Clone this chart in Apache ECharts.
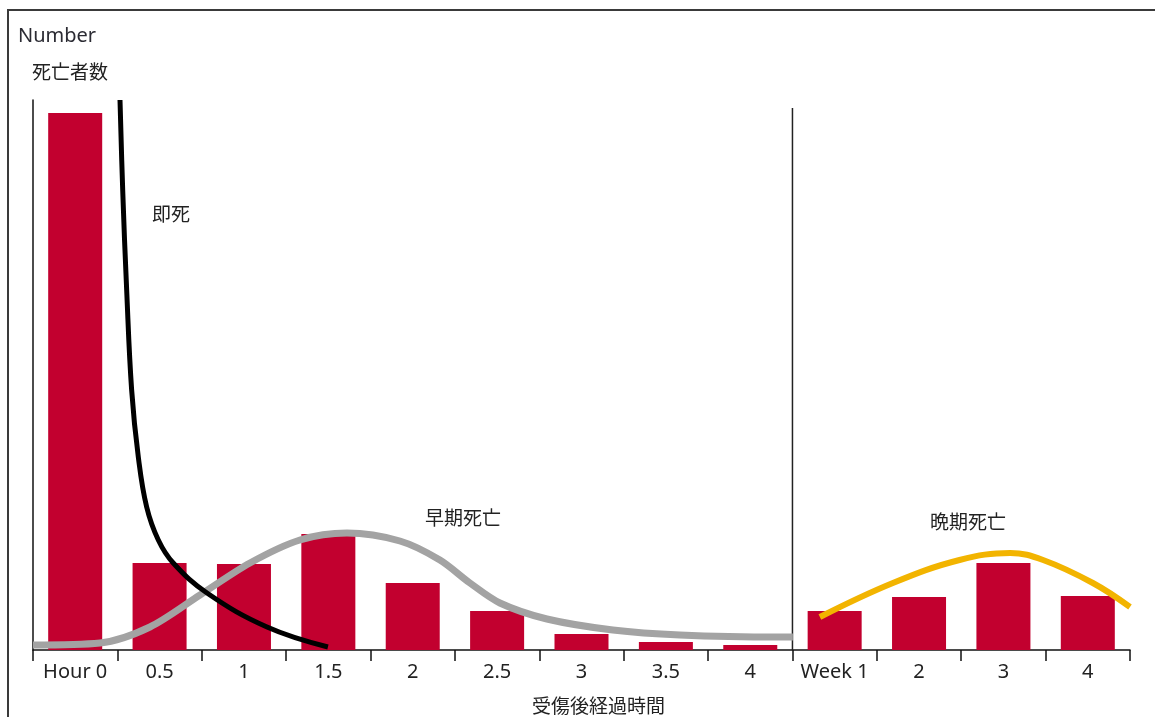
<!DOCTYPE html>
<html>
<head>
<meta charset="utf-8">
<script src="https://cdn.jsdelivr.net/npm/echarts@6/dist/echarts.min.js"></script>
<style>
	html, body { margin: 0; padding: 0; background: #fff; }
	#frame { position: absolute; left: 7px; top: 9px; width: 1200px; height: 800px; border-left: 2px solid #3a3a3a; border-top: 2px solid #3a3a3a; }
	#chart { position: absolute; left: 0; top: 0; width: 1155px; height: 717px; }
</style>
</head>
<body>
<div id="frame"></div>
<div id="chart"></div>
<script>
// 横軸のカテゴリ（時間・週）
var categories = ['Hour 0', '0.5', '1', '1.5', '2', '2.5', '3', '3.5', '4', 'Week 1', '2', '3', '4'];
// 死亡者数（棒グラフ）
var deaths = [537, 87, 86, 116, 67, 39, 16, 8, 5, 39, 53, 87, 54];
// 曲線：[カテゴリ位置, 値]
var immediateCurve = [[1.031, 550], [1.063, 460], [1.110, 360], [1.169, 260], [1.248, 193], [1.347, 143],
	[1.485, 110], [1.662, 87], [2.062, 57], [2.773, 23], [3.495, 3]];
var earlyCurve = [[0, 5], [0.794, 7], [1.386, 23], [1.979, 55], [2.571, 87], [3.163, 110], [3.720, 117],
	[4.348, 109], [4.822, 90], [5.178, 67], [5.533, 47], [6.090, 31], [6.872, 20], [7.666, 15], [8.851, 13], [9.005, 13]];
var lateCurve = [[9.325, 33], [10.19, 67], [10.98, 90], [11.58, 97], [11.97, 90], [12.56, 67], [13.0, 43]];
// 時間と週の境界
var divider = [[9, 0], [9, 542]];

var latin = '"Noto Sans", "Open Sans", sans-serif';
var cjk = '"Noto Sans CJK JP", sans-serif';

var myChart = echarts.init(document.getElementById('chart'));
var option = {
	animation: false,
	grid: { left: 33, right: 25, top: 100, bottom: 67 },
	xAxis: [{
		type: 'category',
		data: categories,
		boundaryGap: true,
		axisLine: { lineStyle: { color: '#111', width: 1.5 } },
		axisTick: { show: true, length: 11, lineStyle: { color: '#111', width: 1.5 } },
		axisLabel: { interval: 0, margin: 12, fontSize: 20, color: '#222', fontFamily: latin }
	}, {
		type: 'value',
		min: 0,
		max: 13,
		show: false
	}],
	yAxis: {
		type: 'value',
		min: 0,
		max: 550,
		axisLine: { show: true, lineStyle: { color: '#111', width: 1.5 } },
		axisTick: { show: false },
		axisLabel: { show: false },
		splitLine: { show: false }
	},
	graphic: [
		{ type: 'text', left: 18, top: 26, style: { text: 'Number', fontSize: 20, fill: '#2b2b33', fontFamily: latin } },
		{ type: 'text', left: 32, top: 62, style: { text: '死亡者数', fontSize: 19, fill: '#222', fontFamily: cjk } },
		{ type: 'text', left: 152, top: 204, style: { text: '即死', fontSize: 19, fill: '#222', fontFamily: cjk } },
		{ type: 'text', left: 425, top: 508, style: { text: '早期死亡', fontSize: 19, fill: '#222', fontFamily: cjk } },
		{ type: 'text', left: 930, top: 512, style: { text: '晩期死亡', fontSize: 19, fill: '#222', fontFamily: cjk } },
		{ type: 'text', left: 532, top: 696, style: { text: '受傷後経過時間', fontSize: 19, fill: '#222', fontFamily: cjk } }
	],
	series: [{
		type: 'bar',
		data: deaths,
		barWidth: '64%',
		itemStyle: { color: '#c2002f' },
		z: 1
	}, {
		type: 'line',
		xAxisIndex: 1,
		data: earlyCurve,
		smooth: 0.3,
		symbol: 'none',
		lineStyle: { color: '#a3a3a3', width: 7 },
		z: 3
	}, {
		type: 'line',
		xAxisIndex: 1,
		data: immediateCurve,
		smooth: 0.4,
		symbol: 'none',
		lineStyle: { color: '#000', width: 5 },
		z: 4
	}, {
		type: 'line',
		xAxisIndex: 1,
		data: lateCurve,
		smooth: 0.4,
		symbol: 'none',
		lineStyle: { color: '#f2b400', width: 6 },
		z: 3
	}, {
		type: 'line',
		xAxisIndex: 1,
		data: divider,
		symbol: 'none',
		lineStyle: { color: '#222', width: 1.5 },
		z: 2
	}]
};
myChart.setOption(option);
</script>
</body>
</html>
